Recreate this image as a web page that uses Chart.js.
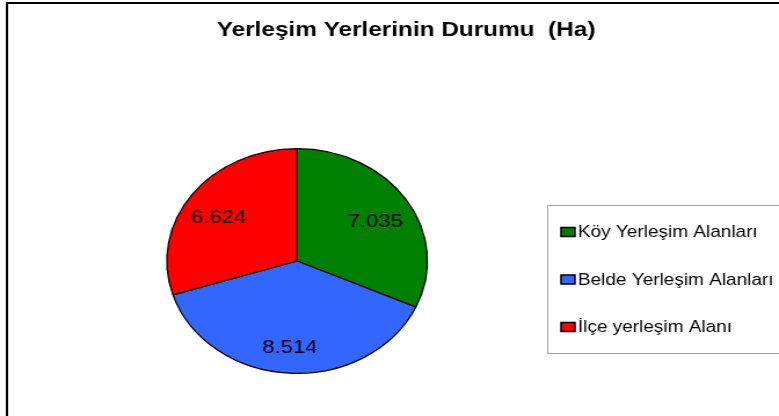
<!DOCTYPE html>
<html><head><meta charset="utf-8">
<script src="https://cdn.jsdelivr.net/npm/chart.js@4"></script>
<style>
html,body{margin:0;padding:0;background:#fff;overflow:hidden;width:779px;height:416px}
#wrap{position:absolute;left:0;top:0;width:672px;height:416px;transform:scaleX(1.1592);transform-origin:0 0}
</style></head><body>
<div id="wrap"><canvas id="c"></canvas></div>
<script>
const categories = ["Köy Yerleşim Alanları", "Belde Yerleşim Alanları", "İlçe yerleşim Alanı"];
const values = [7.035, 8.514, 6.624];
const valueLabels = ["7.035", "8.514", "6.624"];
const colors = ["#008000", "#3366FF", "#FF0000"];
const titleText = "Yerleşim Yerlerinin Durumu  (Ha)";

const FONT = '"Liberation Sans", Arial, sans-serif';

const decor = {
  id: 'decor',
  afterDraw(chart) {
    const ctx = chart.ctx;
    ctx.save();
    // outer frame
    ctx.strokeStyle = '#000';
    ctx.lineWidth = 2;
    ctx.strokeRect(6, 3, 900, 700);
    // title
    ctx.fillStyle = '#000';
    ctx.font = 'bold 21px ' + FONT;
    ctx.textAlign = 'center';
    ctx.textBaseline = 'middle';
    ctx.fillText(titleText, 350.3, 30);
    // value labels
    const meta = chart.getDatasetMeta(0);
    ctx.font = '19px ' + FONT;
    meta.data.forEach((arc, i) => {
      const p = arc.getProps(['x', 'y', 'startAngle', 'endAngle', 'outerRadius'], true);
      const mid = (p.startAngle + p.endAngle) / 2;
      const r = p.outerRadius * 0.73;
      ctx.fillText(chart.data.datasets[0].valueLabels[i], p.x + Math.cos(mid) * r - 1.5, p.y + Math.sin(mid) * r + 5);
    });
    // legend
    ctx.strokeStyle = '#a0a0a0';
    ctx.lineWidth = 1;
    ctx.strokeRect(472.5, 205.5, 400, 148);
    ctx.textAlign = 'left';
    ctx.font = '16.4px ' + FONT;
    chart.data.labels.forEach((lab, i) => {
      const y = 232 + i * 47.5;
      ctx.fillStyle = chart.data.datasets[0].backgroundColor[i];
      ctx.fillRect(484, y - 4.5, 12, 9);
      ctx.strokeStyle = '#000';
      ctx.lineWidth = 1.5;
      ctx.strokeRect(484, y - 4.5, 12, 9);
      ctx.fillStyle = '#000';
      ctx.fillText(lab, 498.5, y + 0.5);
    });
    ctx.restore();
  }
};

new Chart(document.getElementById('c'), {
  type: 'pie',
  data: {
    labels: categories,
    datasets: [{
      data: values,
      valueLabels: valueLabels,
      backgroundColor: colors,
      borderColor: '#000',
      borderWidth: 1.3
    }]
  },
  options: {
    responsive: true,
    maintainAspectRatio: false,
    animation: false,
    layout: { padding: { left: 143.3, right: 302.7, top: 148, bottom: 42 } },
    plugins: {
      legend: { display: false },
      title: { display: false },
      tooltip: { enabled: false }
    }
  },
  plugins: [decor]
});
</script>
</body></html>
